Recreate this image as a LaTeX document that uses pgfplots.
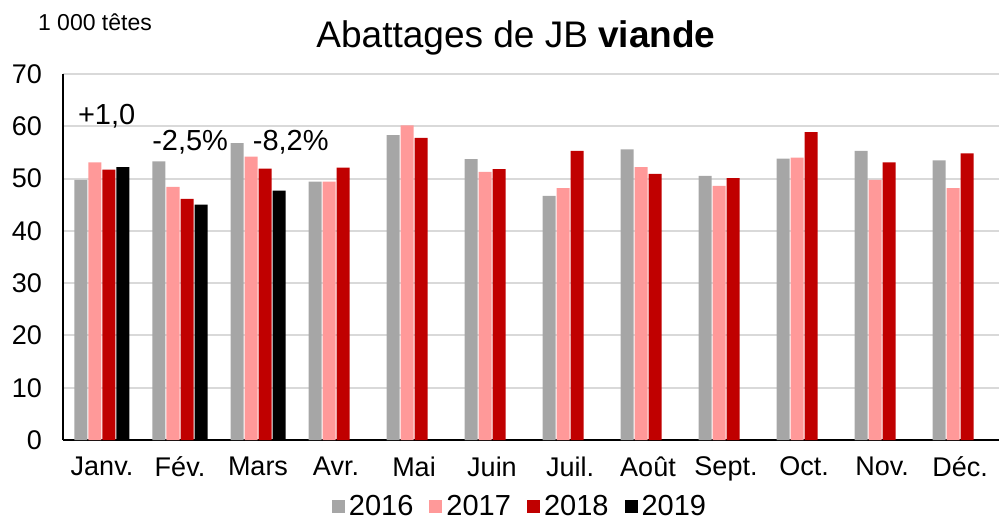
\documentclass[border=0pt]{standalone}
\usepackage{pgfplots}
\pgfplotsset{compat=1.18}
\usepackage{fontspec}
\setmainfont{Liberation Sans}
\definecolor{c16}{HTML}{A6A6A6}
\definecolor{c17}{HTML}{FF9999}
\definecolor{c18}{HTML}{C00000}
\definecolor{gridc}{HTML}{D9D9D9}
\begin{document}
\begin{tikzpicture}
\path[use as bounding box] (-31.5pt,-40.5pt) rectangle (468pt,220pt);
\begin{axis}[
    at={(0pt,0pt)}, anchor=south west,
    scale only axis, width=468pt, height=183pt,
    ybar, bar width=6.5pt,
    xmin=-0.5, xmax=11.5, ymin=0, ymax=70,
    xtick={0,...,11},
    xticklabels={Janv.,Fév.,Mars,Avr.,Mai,Juin,Juil.,Août,Sept.,Oct.,Nov.,Déc.},
    ytick={0,10,...,70},
    /pgf/number format/assume math mode=true,
    major tick length=0pt,
    ymajorgrids, grid style={gridc, line width=1pt},
    axis x line*=bottom, axis y line*=left,
    axis line style={black, line width=0.8pt},
    x tick label style={font=\fontsize{13.5}{15}\selectfont, yshift=-5pt},
    y tick label style={font=\fontsize{13.5}{15}\selectfont, xshift=-7pt},
    legend columns=4,
    legend style={draw=none, at={(229pt,-33.5pt)}, anchor=center,
        font=\fontsize{14.5}{16}\selectfont,
        /tikz/every even column/.append style={column sep=6pt}},
    legend image code/.code={\fill[#1] (0pt,-3.2pt) rectangle (6.5pt,3.3pt);},
    clip=false,
]
\addplot[fill=c16, draw=none, bar shift=-10.5pt] coordinates {
(0,49.75)(1,53.3)(2,56.8)(3,49.4)(4,58.3)(5,53.7)(6,46.7)(7,55.6)(8,50.5)(9,53.8)(10,55.3)(11,53.5)};
\addplot[fill=c17, draw=none, bar shift=-3.5pt] coordinates {
(0,53.1)(1,48.4)(2,54.2)(3,49.4)(4,60.2)(5,51.3)(6,48.2)(7,52.2)(8,48.6)(9,54.0)(10,49.75)(11,48.2)};
\addplot[fill=c18, draw=none, bar shift=3.5pt] coordinates {
(0,51.7)(1,46.1)(2,51.9)(3,52.1)(4,57.8)(5,51.8)(6,55.3)(7,50.9)(8,50.1)(9,58.9)(10,53.1)(11,54.8)};
\addplot[fill=black, draw=none, bar shift=10.5pt] coordinates {
(0,52.2)(1,45.0)(2,47.7)};
\legend{2016,2017,2018,2019}
\node[font=\fontsize{14.5}{16}\selectfont] at (axis cs:0.06,62.0) {+1,0};
\node[font=\fontsize{14.5}{16}\selectfont] at (axis cs:1.13,57.0) {-2,5\%};
\node[font=\fontsize{14.5}{16}\selectfont] at (axis cs:2.42,57.0) {-8,2\%};
\node[font=\fontsize{11.5}{13}\selectfont, anchor=west] at (-16pt,209pt) {1 000 têtes};
\node[font=\fontsize{18.5}{21}\selectfont] at (226.5pt,201pt) {Abattages de JB \textbf{viande}};
\end{axis}
\end{tikzpicture}
\end{document}
